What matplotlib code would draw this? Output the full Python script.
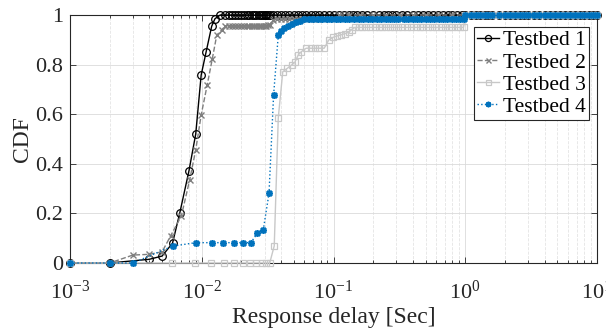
import numpy as np
import matplotlib
matplotlib.use('Agg')
import matplotlib.pyplot as plt

plt.rcParams['font.family'] = ['Liberation Serif', 'DejaVu Serif']
plt.rcParams['mathtext.fontset'] = 'custom'
plt.rcParams['mathtext.rm'] = 'Liberation Serif'
plt.rcParams['mathtext.it'] = 'Liberation Serif'

# CDF level 1 reached from 1 s to 10 s (shared by all testbeds)
top_x = [1.0, 1.1, 1.2, 1.3, 1.4, 1.5, 1.6, 1.8, 2.0, 2.2, 2.4, 2.6, 2.8, 3.0,
         3.3, 3.6, 4.0, 4.4, 4.8, 5.2, 5.7, 6.2, 6.8, 7.4, 8.0, 8.7, 9.4, 10.0]

# Testbed 1
t1_x = [0.001, 0.002, 0.004, 0.005, 0.006, 0.0068, 0.008, 0.009, 0.0099,
        0.0108, 0.0119, 0.0126, 0.0138, 0.015, 0.016, 0.017, 0.018, 0.019,
        0.020, 0.021, 0.022, 0.023, 0.024, 0.025, 0.026, 0.027, 0.028, 0.029,
        0.030, 0.031, 0.032, 0.033, 0.035, 0.037, 0.040, 0.043, 0.046, 0.050,
        0.054, 0.058, 0.062, 0.067, 0.072, 0.078, 0.085, 0.092, 0.10, 0.11,
        0.12, 0.13, 0.14, 0.15, 0.165, 0.18, 0.20, 0.22, 0.24, 0.26, 0.28,
        0.30, 0.33, 0.36, 0.40, 0.44, 0.48, 0.52, 0.57, 0.62, 0.68, 0.74,
        0.80, 0.87, 0.94] + top_x
t1_y = [0, 0, 0.015, 0.028, 0.08, 0.2, 0.372, 0.52, 0.758, 0.852, 0.955,
        0.985] + [1.0] * (len(t1_x) - 12)

# Testbed 2
t2_x = [0.001, 0.002, 0.003, 0.004, 0.005, 0.0058, 0.007, 0.0081, 0.009,
        0.0099, 0.011, 0.012, 0.013, 0.0142, 0.015, 0.016, 0.017, 0.018,
        0.019, 0.020, 0.021, 0.022, 0.023, 0.024, 0.025, 0.026, 0.027, 0.028,
        0.029, 0.030, 0.031, 0.032, 0.033, 0.035, 0.037, 0.040, 0.043, 0.046,
        0.050, 0.054, 0.058, 0.062, 0.067, 0.072, 0.078, 0.085, 0.092, 0.10,
        0.11, 0.13, 0.16, 0.20, 0.25, 0.32, 0.40, 0.50, 0.63, 0.80] + top_x
t2_y = [0, 0, 0.032, 0.035, 0.045, 0.109, 0.19, 0.335, 0.456, 0.597, 0.718,
        0.821, 0.919, 0.94, 0.955, 0.957, 0.957, 0.957, 0.957, 0.957, 0.957,
        0.957, 0.957, 0.957, 0.957, 0.957, 0.957, 0.957, 0.957, 0.957, 0.957,
        0.96, 0.96, 0.98, 0.983, 0.983, 0.983, 0.983, 0.983, 0.983, 0.983,
        0.983, 0.983, 0.983, 0.983, 0.983, 0.983, 0.985] + [1.0] * (len(t2_x) - 48)

# Testbed 3
t3_x = [0.001, 0.0059, 0.0089, 0.0117, 0.0147, 0.0176, 0.0205, 0.0232,
        0.0258, 0.0285, 0.0308, 0.0328, 0.0355, 0.0381, 0.0412, 0.0446,
        0.048, 0.051, 0.054, 0.057, 0.062, 0.067, 0.072, 0.078, 0.085,
        0.092, 0.099, 0.106, 0.114, 0.122, 0.13, 0.137, 0.145, 0.155, 0.165,
        0.175, 0.19, 0.205, 0.22, 0.235, 0.25, 0.27, 0.29, 0.31, 0.33, 0.36,
        0.39, 0.42, 0.45, 0.48, 0.52, 0.56, 0.60, 0.65, 0.70, 0.75, 0.80,
        0.86, 0.92, 0.97] + top_x
t3_y = [0, 0, 0, 0, 0, 0, 0, 0, 0, 0, 0, 0, 0.069, 0.586, 0.771, 0.785, 0.798,
        0.81, 0.839, 0.852, 0.866, 0.866, 0.866, 0.866, 0.866, 0.899, 0.91,
        0.915, 0.92, 0.925, 0.93, 0.94] + [0.95] * 28 + [1.0] * len(top_x)

# Testbed 4
t4_x = [0.001, 0.002, 0.003, 0.006, 0.009, 0.012, 0.0146, 0.0176, 0.0207,
        0.0236, 0.0264, 0.0293, 0.0324, 0.0351, 0.0381, 0.040, 0.042, 0.045,
        0.048, 0.052, 0.056, 0.060, 0.065, 0.070, 0.076, 0.082, 0.089, 0.096,
        0.104, 0.113, 0.122, 0.132, 0.143, 0.155, 0.168, 0.182, 0.197, 0.213,
        0.23, 0.25, 0.27, 0.29, 0.31, 0.34, 0.37, 0.40, 0.43, 0.46, 0.50,
        0.54, 0.58, 0.63, 0.68, 0.73, 0.79, 0.85, 0.91, 0.97] + top_x
t4_y = [0, 0, 0, 0.068, 0.082, 0.082, 0.082, 0.082, 0.082, 0.082, 0.12,
        0.133, 0.281, 0.677, 0.919, 0.935, 0.946, 0.955, 0.965, 0.972,
        0.975] + [0.982] * 37 + [1.0] * len(top_x)

labels = ['Testbed 1', 'Testbed 2', 'Testbed 3', 'Testbed 4']

fig = plt.figure(figsize=(6.06, 3.30), dpi=100)
ax = fig.add_axes([70 / 606, 1 - 263 / 330, 527 / 606, 248 / 330])

ax.plot(t1_x, t1_y, color='black', linestyle='-', linewidth=1.0,
        marker='o', markersize=5.5, markerfacecolor='none',
        markeredgewidth=0.9, label=labels[0], clip_on=False, zorder=3)
ax.plot(t2_x, t2_y, color='#7f7f7f', linestyle='--', linewidth=1.0,
        marker='x', markersize=4.5, markeredgewidth=1.0,
        label=labels[1], clip_on=False, zorder=3)
ax.plot(t3_x, t3_y, color='#c8c8c8', linestyle='-', linewidth=1.0,
        marker='s', markersize=4.5, markerfacecolor='none',
        markeredgewidth=0.9, label=labels[2], clip_on=False, zorder=3)
ax.plot(t4_x, t4_y, color='#0072BD', linestyle=':', linewidth=1.0,
        marker=(8, 2, 0), markersize=5.0, markeredgewidth=1.2,
        label=labels[3], clip_on=False, zorder=3)

ax.set_xscale('log')
ax.set_xlim(1e-3, 10)
ax.set_ylim(0, 1)
ax.set_yticks([0, 0.2, 0.4, 0.6, 0.8, 1])
ax.set_yticklabels(['0', '0.2', '0.4', '0.6', '0.8', '1'])
ax.set_xticks([1e-3, 1e-2, 1e-1, 1, 10])
ax.set_xticklabels(['$10^{-3}$', '$10^{-2}$', '$10^{-1}$', '$10^{0}$', '$10^{1}$'])

ax.grid(True, which='major', color='#dadada', linestyle='-', linewidth=0.6)
ax.grid(True, which='minor', axis='x', color='#e4e4e4', linestyle='--', linewidth=0.6)
ax.set_axisbelow(True)

ax.tick_params(which='both', direction='in', top=True, right=True,
               labelsize=16, colors='#262626', width=0.6)
ax.tick_params(which='major', length=4)
ax.tick_params(which='minor', length=2.5)
ax.tick_params(axis='x', which='major', pad=13)
ax.tick_params(axis='y', which='major', pad=5)
for sp in ax.spines.values():
    sp.set_linewidth(0.8)
    sp.set_color('#262626')

ax.set_xlabel('Response delay [Sec]', fontsize=17, color='#262626', labelpad=2)
ax.set_ylabel('CDF', fontsize=17, color='#262626', labelpad=1.5)

leg = ax.legend(loc='upper right', bbox_to_anchor=(589 / 606, 1 - 27 / 330),
                bbox_transform=fig.transFigure, borderaxespad=0,
                fontsize=15.5, handlelength=1.0, handletextpad=0.2,
                labelspacing=0.1, borderpad=0.15, fancybox=False,
                framealpha=1, edgecolor='#262626', markerscale=0.8)
leg.get_frame().set_linewidth(0.8)
leg.set_zorder(5)

fig.savefig('out.png', dpi=100)
